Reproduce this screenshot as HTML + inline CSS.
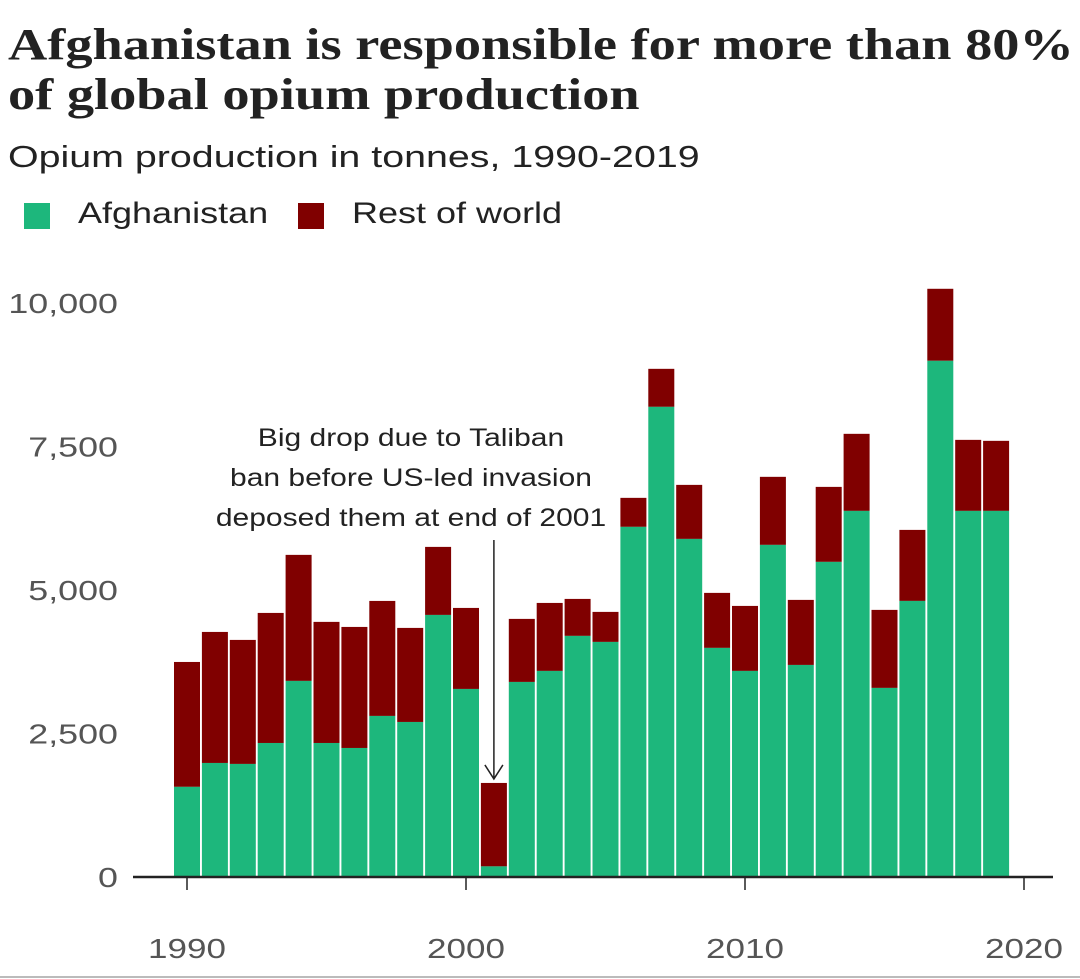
<!DOCTYPE html>
<html><head><meta charset="utf-8"><style>
body{margin:0;background:#fff;width:1080px;height:979px;overflow:hidden;font-family:"Liberation Sans",sans-serif;}
.t{position:absolute;left:8px;top:20px;font-family:"Liberation Serif",serif;font-weight:bold;font-size:44px;line-height:50px;color:#222;transform-origin:0 0;transform:scaleX(1.235);white-space:nowrap;}
.s{position:absolute;left:8px;top:139px;font-size:31px;color:#222;transform-origin:0 0;transform:scaleX(1.27);white-space:nowrap;}
.lg{position:absolute;top:197px;font-size:30px;color:#222;transform-origin:0 0;transform:scaleX(1.2);white-space:nowrap;}
.sw{position:absolute;top:203px;width:26px;height:26px;}
</style></head><body>
<div class="t">Afghanistan is responsible for more than 80%<br>of global opium production</div>
<div class="s">Opium production in tonnes, 1990-2019</div>
<div class="sw" style="left:24px;background:#1db77c"></div>
<div class="lg" style="left:78px">Afghanistan</div>
<div class="sw" style="left:298px;background:#800000"></div>
<div class="lg" style="left:352px">Rest of world</div>
<svg id="c" width="1080" height="979" style="position:absolute;left:0;top:0"></svg>
<script>
const years=[1990,1991,1992,1993,1994,1995,1996,1997,1998,1999,2000,2001,2002,2003,2004,2005,2006,2007,2008,2009,2010,2011,2012,2013,2014,2015,2016,2017,2018,2019];
const totals=[3745,4268,4129,4599,5610,4443,4355,4808,4338,5749,4686,1638,4495,4773,4843,4617,6603,8850,6829,4948,4721,6969,4826,6794,7718,4652,6045,10244,7613,7596];
const afghan=[1570,1986,1969,2334,3415,2334,2247,2805,2700,4564,3275,185,3397,3589,4199,4094,6098,8188,5888,3990,3589,5784,3693,5488,6376,3293,4808,8990,6376,6376];
const yTicks=[0,2500,5000,7500,10000];
const xTicks=[1990,2000,2010,2020];
const svg=document.getElementById('c');const NS='http://www.w3.org/2000/svg';
const x=v=>187+(v-1990)*27.9;
const y=v=>877-v*0.05742;
function mk(t,a,txt){const e=document.createElementNS(NS,t);for(const k in a)e.setAttribute(k,a[k]);if(txt!==undefined)e.textContent=txt;svg.appendChild(e);return e;}
function stretch(e,f){const w=e.getComputedTextLength();e.setAttribute('textLength',w*f);e.setAttribute('lengthAdjust','spacingAndGlyphs');}
yTicks.forEach(v=>{
 const e=mk('text',{x:118,y:y(v)+10,'text-anchor':'end','font-size':28,fill:'#555','font-family':'Liberation Sans, sans-serif'},v.toLocaleString('en-US'));
 
 
 stretch(e,1.28);
});
years.forEach((yr,i)=>{
 const r1=mk('rect',{x:x(yr)-13,y:y(totals[i]),width:26,height:y(afghan[i])-y(totals[i]),fill:'#800000'});
 
 
 const r2=mk('rect',{x:x(yr)-13,y:y(afghan[i]),width:26,height:y(0)-y(afghan[i]),fill:'#1db77c'});
 
 
});
const ax=mk('line',{x1:133,x2:1053,y1:877,y2:877,stroke:'#222','stroke-width':2.5});


xTicks.forEach(v=>{
 const l=mk('line',{x1:x(v),x2:x(v),y1:878,y2:890,stroke:'#222','stroke-width':1.5});
 
 
 const t=mk('text',{x:x(v),y:958,'text-anchor':'middle','font-size':28,fill:'#555','font-family':'Liberation Sans, sans-serif'},v);
 
 
 stretch(t,1.25);
});
['Big drop due to Taliban','ban before US-led invasion','deposed them at end of 2001'].forEach((s,i)=>{
 const t=mk('text',{x:411,y:446+i*40,'text-anchor':'middle','font-size':25,fill:'#222','font-family':'Liberation Sans, sans-serif'},s);
 
 
 stretch(t,1.2);
});
const ar=mk('path',{d:`M${x(2001)} 540 V${y(totals[11])-4} M${x(2001)-9} ${y(totals[11])-18} L${x(2001)} ${y(totals[11])-4} L${x(2001)+9} ${y(totals[11])-18}`,stroke:'#222','stroke-width':1.5,fill:'none'});


const bl=mk('line',{x1:0,x2:1080,y1:977,y2:977,stroke:'#bbb','stroke-width':2});


</script>
</body></html>
